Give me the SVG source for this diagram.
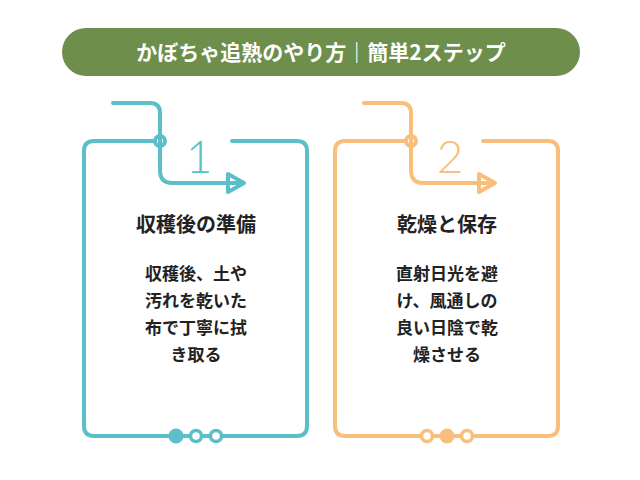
<svg xmlns="http://www.w3.org/2000/svg" width="640" height="480" viewBox="0 0 640 480">
<style>
.t{stroke:#5bbfca;fill:none;stroke-width:4;stroke-linecap:round;stroke-linejoin:round}
.o{stroke:#f9be7c;fill:none;stroke-width:4;stroke-linecap:round;stroke-linejoin:round}
.h{font-family:"Noto Sans CJK JP","Noto Sans",sans-serif;font-weight:bold;font-size:20px;fill:#222;text-anchor:middle}
.b{font-family:"Noto Sans CJK JP","Noto Sans",sans-serif;font-weight:bold;font-size:17px;fill:#222;text-anchor:middle}
.n{font-family:"Lato","DejaVu Sans",sans-serif;font-weight:300;font-size:46px;text-anchor:middle}
</style>
<rect width="640" height="480" fill="#fff"/>
<g id="title">
<rect x="62" y="28" width="518" height="48" rx="24" fill="#6e8e4c"/>
<text x="321" y="60" font-family="'Noto Sans CJK JP',sans-serif" font-weight="bold" font-size="21" fill="#fff" text-anchor="middle">かぼちゃ追熟のやり方｜簡単2ステップ</text>
</g>
<g id="step1">
<path class="t" d="M155 141 H94 Q84 141 84 151 V426 Q84 436 94 436 H297 Q307 436 307 426 V151 Q307 141 297 141 H232"/>
<path class="t" d="M113 103 H150 Q160 103 160 113 V170 Q160 183 172 183 H240"/>
<polygon class="t" points="228,174 244,183 228,192" fill="#fff"/>
<circle cx="160" cy="141" r="5" fill="#fff" class="t" stroke-width="3"/>
<text class="n" x="199" y="173" fill="#5bbfca">1</text>
<text class="h" x="196" y="232">収穫後の準備</text>
<text class="b" x="196" y="280">収穫後、土や</text>
<text class="b" x="196" y="307">汚れを乾いた</text>
<text class="b" x="196" y="334">布で丁寧に拭</text>
<text class="b" x="196" y="361">き取る</text>
<circle cx="176" cy="436" r="7.5" fill="#5bbfca"/>
<circle cx="196" cy="436" r="5.5" fill="#fff" stroke="#5bbfca" stroke-width="3.5"/>
<circle cx="216" cy="436" r="5.5" fill="#fff" stroke="#5bbfca" stroke-width="3.5"/>
</g>
<g id="step2">
<path class="o" d="M406 141 H345 Q335 141 335 151 V426 Q335 436 345 436 H548 Q558 436 558 426 V151 Q558 141 548 141 H483"/>
<path class="o" d="M364 103 H401 Q411 103 411 113 V170 Q411 183 423 183 H491"/>
<polygon class="o" points="479,174 495,183 479,192" fill="#fff"/>
<circle cx="411" cy="141" r="5" fill="#fff" class="o" stroke-width="3"/>
<text class="n" x="450" y="173" fill="#f9be7c">2</text>
<text class="h" x="447" y="232">乾燥と保存</text>
<text class="b" x="447" y="280">直射日光を避</text>
<text class="b" x="447" y="307">け、風通しの</text>
<text class="b" x="447" y="334">良い日陰で乾</text>
<text class="b" x="447" y="361">燥させる</text>
<circle cx="427" cy="436" r="5.5" fill="#fff" stroke="#f9be7c" stroke-width="3.5"/>
<circle cx="447" cy="436" r="7.5" fill="#f9be7c"/>
<circle cx="467" cy="436" r="5.5" fill="#fff" stroke="#f9be7c" stroke-width="3.5"/>
</g>
</svg>
